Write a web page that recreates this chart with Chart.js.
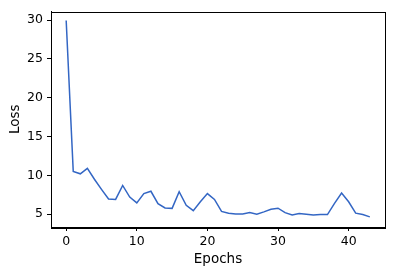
<!DOCTYPE html>
<html>
<head>
<meta charset="utf-8">
<script src="https://cdn.jsdelivr.net/npm/chart.js@4"></script>
<style>
  html, body { margin: 0; padding: 0; background: #fff; }
  #wrap { width: 405px; height: 277px; }
</style>
</head>
<body>
<div id="wrap"><canvas id="lossChart"></canvas></div>
<script>
// loss per epoch
const epochs = Array.from({ length: 44 }, (_, i) => i);
const loss = [
  29.95, 10.5, 10.2, 10.9, 9.5, 8.2, 6.95, 6.9, 8.7, 7.2,
  6.45, 7.65, 7.95, 6.35, 5.8, 5.75, 7.9, 6.15, 5.45, 6.6,
  7.65, 6.9, 5.35, 5.13, 5.04, 5.04, 5.2, 5.0, 5.3, 5.64,
  5.77, 5.2, 4.9, 5.08, 5.0, 4.9, 4.95, 4.95, 6.4, 7.73,
  6.6, 5.13, 4.95, 4.65
];
const xTicks = [0, 10, 20, 30, 40];
const yTicks = [5, 10, 15, 20, 25, 30];

const tickFont = { family: 'DejaVu Sans', size: 12.5 };
const labelFont = { family: 'DejaVu Sans', size: 13.5 };

// matplotlib draws a full box round the axes
const frame = {
  id: 'frame',
  afterDraw(chart) {
    const { ctx, chartArea: a } = chart;
    ctx.save();
    ctx.strokeStyle = '#000';
    ctx.lineWidth = 1;
    ctx.strokeRect(Math.round(a.left) + 0.5, Math.round(a.top) + 0.5,
      Math.round(a.right - a.left), Math.round(a.bottom - a.top));
    ctx.restore();
  }
};

new Chart(document.getElementById('lossChart'), {
  type: 'line',
  data: {
    datasets: [{
      data: epochs.map((e, i) => ({ x: e, y: loss[i] })),
      borderColor: '#3366c4',
      borderWidth: 1.5,
      pointRadius: 0,
      tension: 0,
      fill: false
    }]
  },
  options: {
    responsive: true,
    maintainAspectRatio: false,
    animation: false,
    devicePixelRatio: 1,
    layout: { padding: { top: 9, right: 20, left: 0, bottom: 0 } },
    plugins: { legend: { display: false }, tooltip: { enabled: false } },
    scales: {
      x: {
        type: 'linear',
        min: -2.15,
        max: 45.15,
        afterFit: s => { s.height = 50; },
        afterBuildTicks: s => { s.ticks = xTicks.map(v => ({ value: v })); },
        grid: { drawOnChartArea: false, drawTicks: true, tickLength: 4, color: '#000' },
        border: { display: true, color: '#000' },
        ticks: { color: '#000', font: tickFont, padding: 3, maxRotation: 0 },
        title: { display: true, text: 'Epochs', color: '#000', font: labelFont, padding: { top: 0, bottom: 9 } }
      },
      y: {
        min: 3.35,
        max: 31.1,
        afterFit: s => { s.width = 51; },
        afterBuildTicks: s => { s.ticks = yTicks.map(v => ({ value: v })); },
        grid: { drawOnChartArea: false, drawTicks: true, tickLength: 4, color: '#000' },
        border: { display: true, color: '#000' },
        ticks: { color: '#000', font: tickFont, padding: 4 },
        title: { display: true, text: 'Loss', color: '#000', font: labelFont, padding: { top: 7, bottom: 0 } }
      }
    }
  },
  plugins: [frame]
});
</script>
</body>
</html>
